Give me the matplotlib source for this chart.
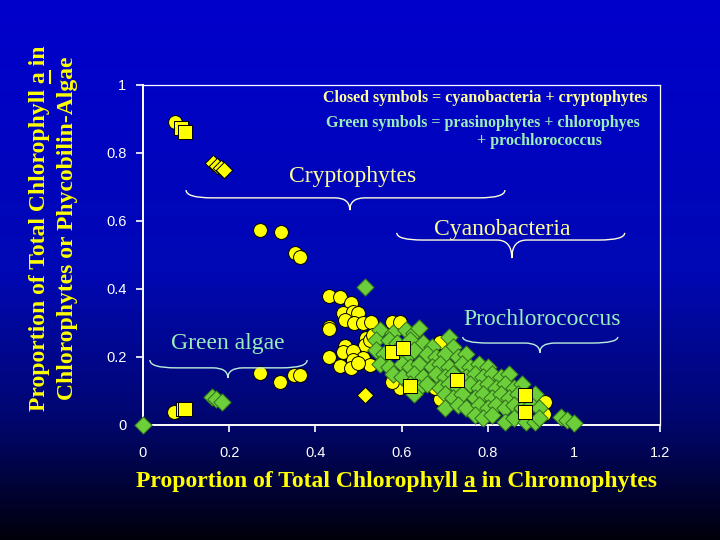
import matplotlib
matplotlib.use('Agg')
import matplotlib.pyplot as plt
import numpy as np
from matplotlib.path import Path
from matplotlib.patches import PathPatch
from matplotlib.lines import Line2D
from matplotlib.colors import LinearSegmentedColormap

# --- data ---
circ_x = [0.074, 0.271, 0.320, 0.353, 0.364, 0.072, 0.271, 0.318, 0.350, 0.364,
          0.432, 0.457, 0.483, 0.464, 0.487, 0.499, 0.469, 0.490, 0.510, 0.529,
          0.432, 0.432, 0.578, 0.596, 0.517, 0.515, 0.469, 0.464, 0.487, 0.510,
          0.487, 0.432, 0.457, 0.483, 0.527, 0.499, 0.527, 0.534, 0.578, 0.596,
          0.689, 0.689, 0.578, 0.677, 0.933, 0.930, 0.729]
circ_y = [0.891, 0.574, 0.568, 0.506, 0.494, 0.038, 0.153, 0.126, 0.147, 0.147,
          0.379, 0.376, 0.358, 0.329, 0.332, 0.329, 0.309, 0.300, 0.300, 0.303,
          0.288, 0.282, 0.303, 0.303, 0.256, 0.235, 0.232, 0.215, 0.218, 0.197,
          0.191, 0.200, 0.174, 0.168, 0.176, 0.182, 0.250, 0.265, 0.132, 0.109,
          0.244, 0.076, 0.126, 0.109, 0.068, 0.032, 0.132]

sq_x = [0.088, 0.097, 0.093, 0.097, 0.578, 0.603, 0.620, 0.729, 0.886, 0.886]
sq_y = [0.874, 0.862, 0.047, 0.047, 0.215, 0.226, 0.115, 0.132, 0.088, 0.038]

ydia_x = [0.162, 0.172, 0.180, 0.188, 0.515]
ydia_y = [0.771, 0.762, 0.755, 0.750, 0.088]

green_x = [0.000, 0.160, 0.169, 0.183, 0.515,
           0.55, 0.58, 0.61, 0.63, 0.64,
           0.54, 0.57, 0.59, 0.62, 0.65, 0.67, 0.71, 0.72,
           0.54, 0.56, 0.59, 0.61, 0.63, 0.66, 0.68, 0.70, 0.73, 0.75,
           0.55, 0.57, 0.60, 0.62, 0.64, 0.67, 0.69, 0.71, 0.74, 0.76, 0.78, 0.80,
           0.58, 0.60, 0.63, 0.65, 0.68, 0.70, 0.72, 0.75, 0.77, 0.79, 0.81, 0.83, 0.85,
           0.62, 0.64, 0.66, 0.69, 0.71, 0.73, 0.76, 0.78, 0.80, 0.82, 0.84, 0.86, 0.88,
           0.63, 0.70, 0.72, 0.74, 0.77, 0.79, 0.81, 0.83, 0.85, 0.87, 0.89, 0.91,
           0.70, 0.73, 0.75, 0.78, 0.80, 0.82, 0.84, 0.86, 0.88, 0.90, 0.92,
           0.77, 0.79, 0.81, 0.84, 0.86, 0.89, 0.91, 0.92,
           0.97, 0.985, 1.00]
green_y = [0.000, 0.082, 0.076, 0.068, 0.406,
           0.28, 0.27, 0.28, 0.27, 0.285,
           0.25, 0.25, 0.24, 0.25, 0.24, 0.23, 0.26, 0.23,
           0.22, 0.21, 0.22, 0.20, 0.22, 0.21, 0.20, 0.21, 0.20, 0.21,
           0.18, 0.17, 0.18, 0.17, 0.18, 0.17, 0.18, 0.17, 0.18, 0.17, 0.18, 0.17,
           0.15, 0.14, 0.15, 0.14, 0.15, 0.14, 0.15, 0.14, 0.15, 0.14, 0.15, 0.14, 0.15,
           0.12, 0.11, 0.12, 0.11, 0.12, 0.11, 0.12, 0.11, 0.12, 0.11, 0.12, 0.11, 0.12,
           0.09, 0.09, 0.08, 0.09, 0.08, 0.09, 0.08, 0.09, 0.08, 0.09, 0.08, 0.09,
           0.05, 0.06, 0.05, 0.06, 0.05, 0.06, 0.05, 0.06, 0.05, 0.06, 0.05,
           0.03, 0.02, 0.03, 0.01, 0.02, 0.01, 0.01, 0.02,
           0.024, 0.015, 0.006]

x_ticks = [0, 0.2, 0.4, 0.6, 0.8, 1.0, 1.2]
x_ticklabels = ['0', '0.2', '0.4', '0.6', '0.8', '1', '1.2']
y_ticks = [0, 0.2, 0.4, 0.6, 0.8, 1.0]
y_ticklabels = ['0', '0.2', '0.4', '0.6', '0.8', '1']

SERIF = ['Liberation Serif', 'DejaVu Serif']
SANS = ['Liberation Sans', 'DejaVu Sans']
PALE_YELLOW = '#ffff99'
MINT = '#99eebb'
YELLOW = '#ffff00'

fig = plt.figure(figsize=(7.2, 5.4), dpi=100)

# background gradient
bg = fig.add_axes([0, 0, 1, 1], zorder=-10)
cmap = LinearSegmentedColormap.from_list(
    'bg', [(0, '#0000cc'), (0.5, '#0008b4'), (0.78, '#00066e'), (1, '#00000a')])
bg.imshow(np.linspace(0, 1, 256)[:, None], aspect='auto', cmap=cmap,
          extent=[0, 1, 0, 1], origin='upper')
bg.axis('off')

ax = fig.add_axes([0.1986, 0.213, 0.7181, 0.6296])
ax.set_facecolor('none')
ax.set_xlim(0, 1.2)
ax.set_ylim(0, 1)

ax.scatter(circ_x, circ_y, s=100, marker='o', c=YELLOW, edgecolors='black',
           linewidths=0.7, zorder=3, clip_on=False)
ax.scatter(green_x, green_y, s=78, marker='D', c='#6ccf3a', edgecolors='#2f6e1c',
           linewidths=0.7, zorder=4, clip_on=False)
ax.scatter(sq_x, sq_y, s=100, marker='s', c=YELLOW, edgecolors='black',
           linewidths=0.7, zorder=5, clip_on=False)
ax.scatter(ydia_x, ydia_y, s=70, marker='D', c=YELLOW, edgecolors='black',
           linewidths=0.7, zorder=5, clip_on=False)

for s in ax.spines.values():
    s.set_color('white')
ax.spines['left'].set_linewidth(1.4)
ax.spines['bottom'].set_linewidth(1.4)
ax.spines['top'].set_linewidth(0.9)
ax.spines['right'].set_linewidth(0.9)

ax.set_xticks(x_ticks)
ax.set_xticklabels(x_ticklabels)
ax.set_yticks(y_ticks)
ax.set_yticklabels(y_ticklabels)
ax.tick_params(axis='x', colors='white', length=5, width=1.2, pad=10, labelsize=10.5)
ax.tick_params(axis='y', colors='white', length=5, width=1.2, pad=7, labelsize=10.5)
for lab in ax.get_xticklabels() + ax.get_yticklabels():
    lab.set_family(SANS)


def brace(x0, x1, y_end, y_flat, y_tip, x_tip, color, w=0.06, w2=0.035):
    verts = [(x0, y_end), (x0, y_flat), (x0 + w, y_flat),
             (x_tip - w2, y_flat), (x_tip, y_flat), (x_tip, y_tip),
             (x_tip, y_flat), (x_tip + w2, y_flat),
             (x1 - w, y_flat), (x1, y_flat), (x1, y_end)]
    codes = [Path.MOVETO, Path.CURVE3, Path.CURVE3,
             Path.LINETO, Path.CURVE3, Path.CURVE3,
             Path.CURVE3, Path.CURVE3,
             Path.LINETO, Path.CURVE3, Path.CURVE3]
    ax.add_patch(PathPatch(Path(verts, codes), fill=False, edgecolor=color,
                           linewidth=1.0, clip_on=False, zorder=6))


brace(0.100, 0.840, 0.691, 0.668, 0.632, 0.480, '#ffffdd')
brace(0.589, 1.118, 0.565, 0.544, 0.491, 0.856, '#ffffdd')
brace(0.742, 1.102, 0.259, 0.241, 0.212, 0.921, '#bbeedd')
brace(0.016, 0.381, 0.191, 0.168, 0.138, 0.197, '#bbeedd')

ax.text(0.794, 0.962, 'Closed symbols = cyanobacteria + cryptophytes', color=PALE_YELLOW,
        family=SERIF, weight='bold', fontsize=11.5, ha='center', va='center')
ax.text(0.789, 0.888, 'Green symbols = prasinophytes + chlorophyes', color=MINT,
        family=SERIF, weight='bold', fontsize=11.5, ha='center', va='center')
ax.text(0.921, 0.835, '+ prochlorococcus', color=MINT,
        family=SERIF, weight='bold', fontsize=11.5, ha='center', va='center')
ax.text(0.487, 0.732, 'Cryptophytes', color=PALE_YELLOW, family=SERIF,
        fontsize=17, ha='center', va='center')
ax.text(0.833, 0.576, 'Cyanobacteria', color=PALE_YELLOW, family=SERIF,
        fontsize=17, ha='center', va='center')
ax.text(0.926, 0.309, 'Prochlorococcus', color=MINT, family=SERIF,
        fontsize=17, ha='center', va='center')
ax.text(0.197, 0.241, 'Green algae', color=MINT, family=SERIF,
        fontsize=17, ha='center', va='center')

# axis titles with underlined "a"
lab_kw = dict(color=YELLOW, family=SERIF, weight='bold', fontsize=17)
W, H = fig.get_size_inches() * fig.dpi
renderer = fig.canvas.get_renderer()


def text_width(s):
    t = fig.text(0, 0, s, **lab_kw)
    w = t.get_window_extent(renderer).width
    t.remove()
    return w


def label(full, prefix, cx, cy, rotated):
    fig.text(cx / W, 1 - cy / H, full, ha='center', va='center',
             rotation=90 if rotated else 0, **lab_kw)
    if prefix is None:
        return
    w_full = text_width(full)
    w_pre = text_width(prefix + 'a')
    w_a = text_width('a')
    start = -w_full / 2 + w_pre - w_a
    end = -w_full / 2 + w_pre
    if rotated:
        ux = cx + 9.5
        ys = [1 - (cy - start) / H, 1 - (cy - end) / H]
        fig.add_artist(Line2D([ux / W, ux / W], ys, color=YELLOW, lw=1.5))
    else:
        uy = cy + 9.5
        xs = [(cx + start) / W, (cx + end) / W]
        fig.add_artist(Line2D(xs, [1 - uy / H, 1 - uy / H], color=YELLOW, lw=1.5))


label('Proportion of Total Chlorophyll a in Chromophytes',
      'Proportion of Total Chlorophyll ', 397, 481, False)
label('Proportion of Total Chlorophyll a in', 'Proportion of Total Chlorophyll ',
      40, 228, True)
label('Chlorophytes or Phycobilin-Algae', None, 68, 228, True)

fig.savefig('out.png', dpi=100)
